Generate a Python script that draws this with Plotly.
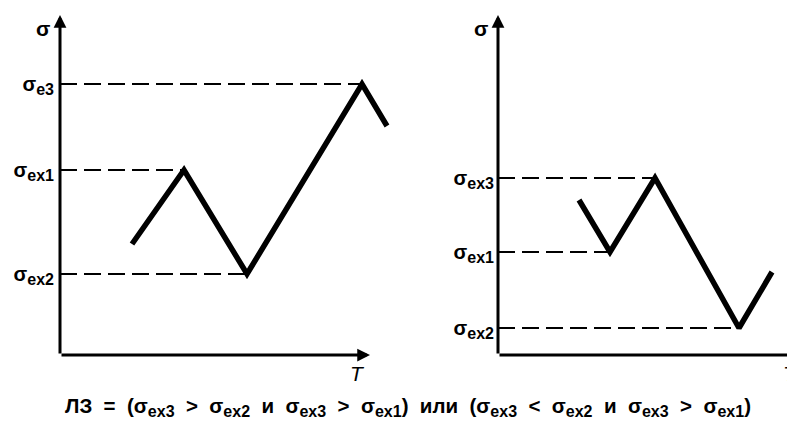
import plotly.graph_objects as go

# left panel: stress path over time
left_t = [72, 124, 187, 302, 327]
left_sigma = [111, 185, 81, 271, 229]
left_levels = [271, 185, 81]
left_level_t = [302, 124, 187]
left_subs = ["e3", "ex1", "ex2"]

# right panel
right_t = [81, 112, 157, 241, 274]
right_sigma = [155, 103, 177, 27, 83]
right_levels = [177, 103, 27]
right_level_t = [157, 112, 241]
right_subs = ["ex3", "ex1", "ex2"]


def sig(sub, size=16):
    return f"σ<sub><span style='font-size:{size}px'>{sub}</span></sub>"


sp = "&nbsp;&nbsp;"
cs = 16
caption = (f"ЛЗ{sp}={sp}({sig('ex3', cs)}{sp}>{sp}{sig('ex2', cs)}{sp}и{sp}{sig('ex3', cs)}{sp}>{sp}{sig('ex1', cs)})"
           f"{sp}или{sp}({sig('ex3', cs)}{sp}<{sp}{sig('ex2', cs)}{sp}и{sp}{sig('ex3', cs)}{sp}>{sp}{sig('ex1', cs)})")

# the page puts the figure 8px in from the top-left corner
OFF = 8
W, H = 795 - OFF, 423 - OFF
FONT = "Liberation Sans, Arial, sans-serif"

fig = go.Figure()

panels = [
    ("x", "y", left_t, left_sigma, left_levels, left_level_t, 310, 340, 297),
    ("x2", "y2", right_t, right_sigma, right_levels, right_level_t, 302, 340, 292),
]

for xa, ya, t, s, levels, level_t, xmax, ymax, tpos in panels:
    for lv, lt in zip(levels, level_t):
        fig.add_trace(go.Scatter(
            x=[0, lt], y=[lv, lv], mode="lines", xaxis=xa, yaxis=ya,
            line=dict(color="black", width=2, dash="17px,7px"),
            showlegend=False, hoverinfo="skip"))
    fig.add_trace(go.Scatter(
        x=t, y=s, mode="lines", xaxis=xa, yaxis=ya,
        line=dict(color="black", width=5.5), showlegend=False))
    # axis arrows
    for tip in [(0, ymax), (xmax, 0)]:
        fig.add_annotation(x=tip[0], y=tip[1], ax=0, ay=0, xref=xa, yref=ya,
                           axref=xa, ayref=ya, text="", showarrow=True,
                           arrowhead=2, arrowsize=0.85, arrowwidth=3,
                           arrowcolor="black", standoff=0)
    fig.add_annotation(x=0, y=ymax - 13, xref=xa, yref=ya, text="σ",
                       showarrow=False, xanchor="right", xshift=-8,
                       font=dict(family=FONT, size=21, color="black", weight="bold"))
    fig.add_annotation(x=tpos, y=0, xref=xa, yref=ya, text="<i>T</i>",
                       showarrow=False, yanchor="top", yshift=-5,
                       font=dict(family=FONT, size=21, color="black"))

fig.add_annotation(x=(408 - OFF) / W, y=1 - (407 - OFF) / H, xref="paper", yref="paper",
                   text=caption, showarrow=False, xanchor="center", yanchor="middle",
                   font=dict(family=FONT, size=20.5, color="black", weight="bold"))

axis_common = dict(showgrid=False, zeroline=False, showline=False, ticks="",
                   automargin=False)
tickfont = dict(family=FONT, size=20, color="black", weight="bold")
yrange = [-68, 355 - OFF]

fig.update_layout(
    width=W, height=H,
    margin=dict(l=0, r=0, t=0, b=0),
    paper_bgcolor="white", plot_bgcolor="rgba(0,0,0,0)",
    xaxis=dict(domain=[(60 - OFF) / W, (400 - OFF) / W], range=[0, 340],
               showticklabels=False, **axis_common),
    yaxis=dict(domain=[0, 1], range=yrange, anchor="x",
               tickvals=left_levels, ticktext=[sig(v) for v in left_subs],
               tickfont=tickfont, ticklabelstandoff=5, **axis_common),
    xaxis2=dict(domain=[(498 - OFF) / W, 1], range=[0, 297], anchor="y2",
                showticklabels=False, **axis_common),
    yaxis2=dict(domain=[0, 1], range=yrange, anchor="x2",
                tickvals=right_levels, ticktext=[sig(v) for v in right_subs],
                tickfont=tickfont, ticklabelstandoff=3, **axis_common),
)

fig.write_html("out.html")
